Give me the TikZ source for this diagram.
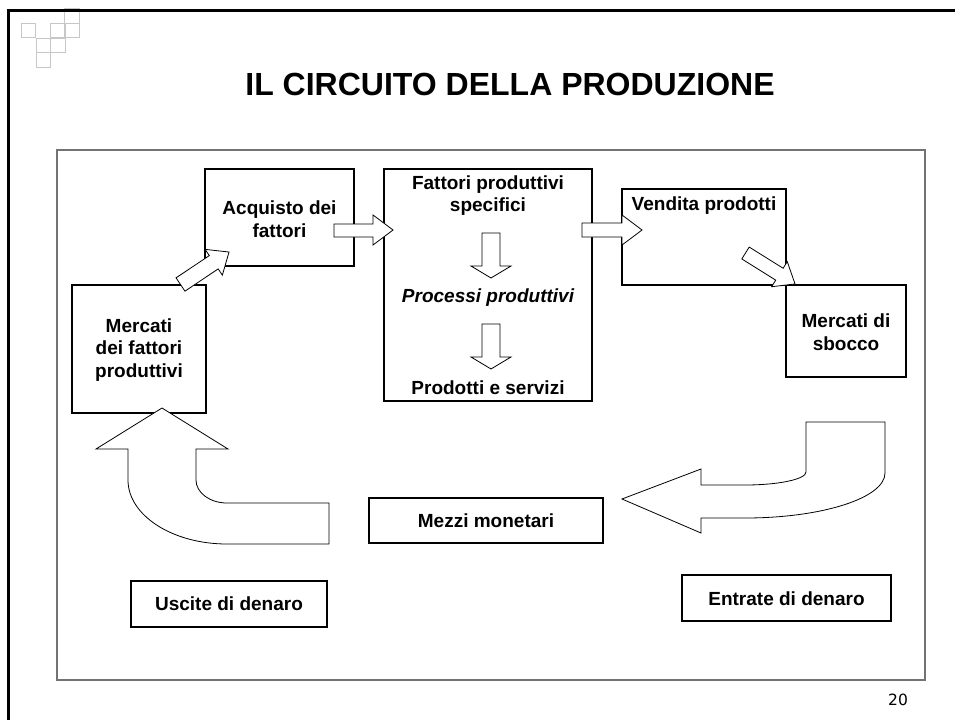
\documentclass[tikz,border=0pt]{standalone}
\usepackage{fontspec}
\setmainfont{Liberation Sans}
\newfontfamily\numfont{DejaVu Sans}
\begin{document}
\begin{tikzpicture}[x=1pt,y=-1pt,
  box/.style={draw=black,line width=1.2pt,fill=white,inner sep=0pt},
  lbl/.style={font=\fontsize{19}{22.5}\selectfont\bfseries,align=center,inner sep=0pt},
  blockarrow/.style={draw=black,line width=0.8pt,fill=white,line join=miter},
  deco/.style={draw=black!22,line width=0.8pt}]
\useasboundingbox (0,0) rectangle (955,720);
% decorative squares
\foreach \sx/\sy in {21/23,36/38,36/52.5,50.5/23,50.5/38,64.5/8.5,64.5/23}
  \draw[deco] (\sx,\sy) rectangle ++(14.5,14.5);
% outer frame
\draw[line width=3pt] (8,720) -- (8,10.5) -- (955,10.5);
% title
\node[font=\fontsize{32}{36}\selectfont\bfseries,anchor=base] (title) at (510,95) {IL CIRCUITO DELLA PRODUZIONE};
% inner frame
\draw[draw=black!55,line width=1.3pt] (57,150) rectangle (925,680);
% page number
\node[font=\numfont\fontsize{15.5}{18}\selectfont,anchor=base] (pnum) at (898,705) {20};

% boxes
\node[box,minimum width=149pt,minimum height=97pt] (acq) at (279.5,217.5) {};
\node[box,minimum width=208pt,minimum height=232pt] (fat) at (488,285) {};
\node[box,minimum width=164pt,minimum height=96pt] (ven) at (704,237) {};
\node[box,minimum width=120pt,minimum height=92pt] (sbo) at (846,331) {};
\node[box,minimum width=134pt,minimum height=128pt] (mfp) at (139,349) {};
\node[box,minimum width=234pt,minimum height=45pt] (mez) at (486,520.5) {};
\node[box,minimum width=196pt,minimum height=46pt] (usc) at (229,604) {};
\node[box,minimum width=209pt,minimum height=46pt] (ent) at (786.5,598) {};

% texts
\node[lbl] (tacq) at (279.5,219) {Acquisto dei\\fattori};
\node[lbl] (tfat) at (488,195.5) {Fattori produttivi\\specifici};
\node[lbl,font=\fontsize{19}{22.5}\selectfont\bfseries\itshape] (tpro) at (488,298) {Processi produttivi};
\node[lbl] (tpre) at (488,388) {Prodotti e servizi};
\node[lbl] (tven) at (704,206) {Vendita prodotti};
\node[lbl] (tsbo) at (846,332) {Mercati di\\sbocco};
\node[lbl] (tmfp) at (139,350) {Mercati\\dei fattori\\produttivi};
\node[lbl] (tmez) at (486,520.5) {Mezzi monetari};
\node[lbl] (tusc) at (229,604) {Uscite di denaro};
\node[lbl] (tent) at (786.5,598.5) {Entrate di denaro};

% straight block arrows
\draw[blockarrow] (334,224) -- (373,224) -- (373,215) -- (393,230) -- (373,245) -- (373,237) -- (334,237) -- cycle;
\draw[blockarrow] (582,223) -- (622,223) -- (622,215) -- (642,230) -- (622,245) -- (622,237) -- (582,237) -- cycle;
\draw[blockarrow] (482,233) -- (500,233) -- (500,266) -- (511,266) -- (491,278) -- (471,266) -- (482,266) -- cycle;
\draw[blockarrow] (482,324) -- (500,324) -- (500,357) -- (511,357) -- (491,369) -- (471,357) -- (482,357) -- cycle;
% diagonal block arrows
\begin{scope}[shift={(180.5,284.5)},rotate=33.8]
\draw[blockarrow] (0,-8) -- (40,-8) -- (40,-15.5) -- (58.4,0) -- (40,15.5) -- (40,8) -- (0,8) -- cycle;
\end{scope}
\begin{scope}[shift={(745.5,253)},rotate=-32]
\draw[blockarrow] (0,-7) -- (40,-7) -- (40,-14.8) -- (58.4,0) -- (40,14.8) -- (40,7) -- (0,7) -- cycle;
\end{scope}
% curved block arrows
\draw[blockarrow] (162,408) -- (228,449) -- (196,449) -- (196,480)
  .. controls (196,492.7) and (209.9,503) .. (227,503) -- (329,503) -- (329,544) -- (227,544)
  .. controls (172.3,544) and (128,515.3) .. (128,480) -- (128,449) -- (96,449) -- cycle;
\draw[blockarrow] (622,499) -- (701,469) -- (701,485) -- (745,485)
  .. controls (778.7,485) and (806,479.2) .. (806,472) -- (806,422) -- (885,422) -- (885,473)
  .. controls (885,497.9) and (822.3,518) .. (745,518) -- (701,518) -- (701,533) -- cycle;
\end{tikzpicture}
\end{document}
